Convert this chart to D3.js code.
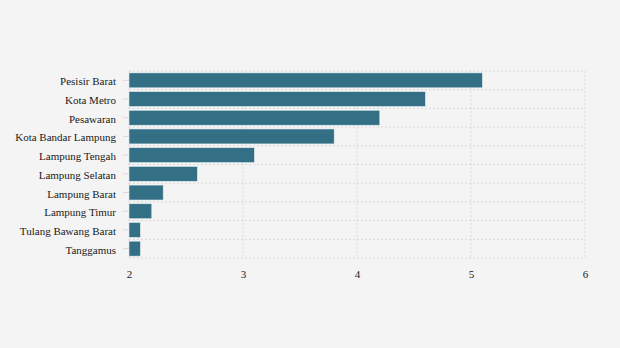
<!DOCTYPE html>
<html><head><meta charset="utf-8">
<script src="https://cdn.jsdelivr.net/npm/d3@7"></script>
<style>body{margin:0;background:#f4f4f4;} svg{display:block;} text{font-family:'Liberation Serif','Times New Roman',serif;}</style>
</head><body>
<svg id="c" width="620" height="348"></svg>
<script>
const categories = ["Pesisir Barat","Kota Metro","Pesawaran","Kota Bandar Lampung","Lampung Tengah","Lampung Selatan","Lampung Barat","Lampung Timur","Tulang Bawang Barat","Tanggamus"];
const values = [5.1,4.6,4.2,3.8,3.1,2.6,2.3,2.2,2.1,2.1];
const xTicks = [2,3,4,5,6];

const svg = d3.select("#c");
svg.append("rect").attr("width",620).attr("height",348).attr("fill","#f4f4f4");
const m = {l:129, r:585, t:71, b:258};
const x = d3.scaleLinear().domain([2,6]).range([m.l,m.r]);
const y = d3.scaleBand().domain(categories).range([m.t,m.b]).paddingInner(0.2).paddingOuter(0.1);
const font = "'Liberation Serif','Times New Roman',serif";

// vertical grid
svg.append("g").selectAll("line").data(xTicks).join("line")
  .attr("x1",d=>x(d)).attr("x2",d=>x(d)).attr("y1",m.t).attr("y2",m.b)
  .attr("stroke","#d9d9d9").attr("stroke-dasharray","2,2");
// horizontal grid at band edges
const edges = categories.map((c,i)=>m.t + i*(m.b-m.t)/categories.length).concat([m.b]);
svg.append("g").selectAll("line").data(edges).join("line")
  .attr("x1",m.l).attr("x2",m.r).attr("y1",d=>d).attr("y2",d=>d)
  .attr("stroke","#d9d9d9").attr("stroke-dasharray","2,2");

// bars
svg.append("g").selectAll("rect").data(categories).join("rect")
  .attr("x",x(2)).attr("y",d=>y(d))
  .attr("width",(d,i)=>x(values[i])-x(2)).attr("height",y.bandwidth())
  .attr("fill","#336f85").attr("stroke","#e6eef0").attr("stroke-width",0.6);

// y axis
const ya = svg.append("g").attr("transform",`translate(${m.l},0)`)
  .call(d3.axisLeft(y).tickSize(6).tickPadding(7));
ya.attr("font-family",null);
ya.select(".domain").remove();
ya.selectAll(".tick line").attr("stroke","#d9d9d9");
ya.selectAll(".tick text").style("font-family",font).attr("font-size",11).attr("fill","#1a1a1a").attr("dy","0.45em");

// x axis
const xa = svg.append("g").attr("transform",`translate(0,${m.b})`)
  .call(d3.axisBottom(x).tickValues(xTicks).tickFormat(d3.format("d")).tickSize(0).tickPadding(12));
xa.attr("font-family",null);
xa.select(".domain").remove();
xa.selectAll(".tick text").style("font-family",font).attr("font-size",11).attr("fill","#1a1a1a");
</script>
</body></html>
